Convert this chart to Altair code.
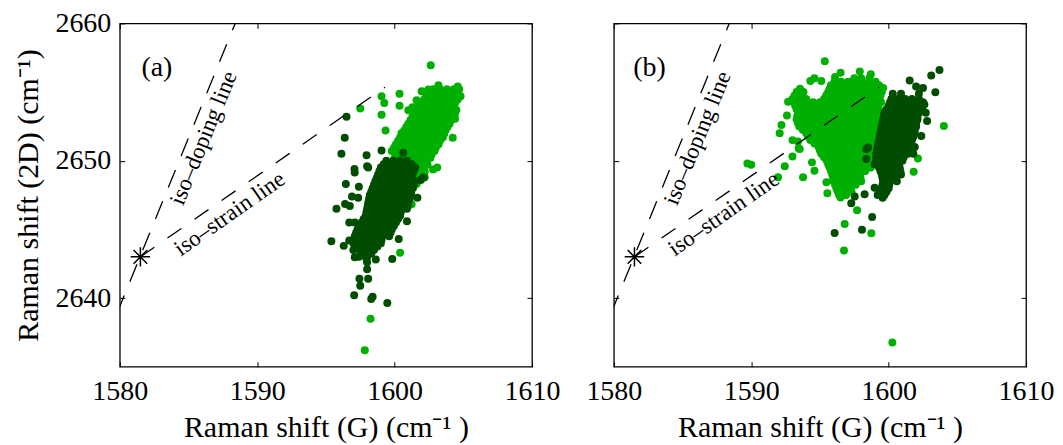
import altair as alt
import pandas as pd

FONT = "Liberation Serif"
LIGHT = "#00b000"
DARK = "#004d00"

X_TICKS = [1580, 1590, 1600, 1610]
Y_TICKS = [2640, 2650, 2660]
X_DOMAIN = [1580, 1610]
Y_DOMAIN = [2635, 2660]

# ---------------- panel (a) ----------------
a_light_rows = [
    (2655.2, [1602.8, 1603.3, 1603.8, 1604.3, 1604.7]),
    (2654.95, [1602.55, 1603.05, 1603.55, 1604.05, 1604.5]),
    (2654.7, [1602.3, 1602.8, 1603.3, 1603.8, 1604.3, 1604.8]),
    (2654.45, [1602.15, 1602.65, 1603.15, 1603.65, 1604.15, 1604.6]),
    (2654.2, [1601.9, 1602.4, 1602.9, 1603.4, 1603.9, 1604.4]),
    (2653.95, [1601.75, 1602.25, 1602.75, 1603.25, 1603.75, 1604.25]),
    (2653.7, [1601.6, 1602.1, 1602.6, 1603.1, 1603.6, 1604.1, 1604.5]),
    (2653.45, [1601.45, 1601.95, 1602.45, 1602.95, 1603.45, 1603.95, 1604.4]),
    (2653.2, [1601.3, 1601.8, 1602.3, 1602.8, 1603.3, 1603.8, 1604.3]),
    (2652.95, [1601.15, 1601.65, 1602.15, 1602.65, 1603.15, 1603.65, 1604.1]),
    (2652.7, [1601.0, 1601.5, 1602.0, 1602.5, 1603.0, 1603.5, 1604.0]),
    (2652.45, [1600.85, 1601.35, 1601.85, 1602.35, 1602.85, 1603.35, 1603.85]),
    (2652.2, [1600.7, 1601.2, 1601.7, 1602.2, 1602.7, 1603.2, 1603.7]),
    (2651.95, [1600.55, 1601.05, 1601.55, 1602.05, 1602.55, 1603.05, 1603.6]),
    (2651.7, [1600.4, 1600.9, 1601.4, 1601.9, 1602.4, 1602.9, 1603.5]),
    (2651.45, [1600.25, 1600.75, 1601.25, 1601.75, 1602.25, 1602.75, 1603.3]),
    (2651.2, [1600.1, 1600.6, 1601.1, 1601.6, 1602.1, 1602.6, 1603.2]),
    (2650.95, [1599.95, 1600.45, 1600.95, 1601.45, 1601.95, 1602.45, 1603.0]),
    (2650.7, [1599.8, 1600.3, 1600.8, 1601.3, 1601.8, 1602.3, 1602.9]),
    (2650.45, [1600.15, 1600.65, 1601.15, 1601.65, 1602.15, 1602.7]),
    (2650.2, [1600.0, 1600.5, 1601.0, 1601.5, 1602.0, 1602.6]),
    (2649.95, [1600.25, 1600.75, 1601.25, 1601.75, 1602.25]),
    (2649.7, [1600.4, 1600.9, 1601.4, 1601.9, 1602.4]),
    (2649.45, [1600.6, 1601.1, 1601.6, 1602.1]),
    (2649.2, [1600.8, 1601.3, 1601.8, 1602.2]),
    (2648.95, [1601.0, 1601.5, 1601.95]),
    (2648.7, [1601.2, 1601.7]),
]
a_light_sx = [1602.63, 1603.19, 1604.4, 1601.97, 1602.46, 1601.6, 1600.36, 1599.05, 1599.25,
              1597.5, 1600.36, 1601.0, 1601.3, 1599.05, 1599.34, 1600.5, 1604.4, 1604.5,
              1604.23, 1602.8, 1603.1, 1602.2, 1601.6, 1601.1, 1601.36, 1600.4, 1597.6,
              1598.25, 1597.83, 1599.54, 1604.6, 1601.24]
a_light_sy = [2656.95, 2655.5, 2655.1, 2655.06, 2655.18, 2654.4, 2654.87, 2654.7, 2654.2,
              2653.8, 2654.0, 2653.68, 2653.9, 2653.34, 2652.2, 2652.0, 2653.05, 2654.6,
              2651.67, 2649.37, 2649.5, 2648.8, 2648.3, 2646.8, 2648.04, 2643.3, 2643.1,
              2638.5, 2636.2, 2649.6, 2655.4, 2646.83]

a_dark_rows = [
    (2650.0, [1599.4, 1599.9, 1600.4, 1600.9]),
    (2649.75, [1599.2, 1599.7, 1600.2, 1600.7, 1601.2]),
    (2649.5, [1599.0, 1599.5, 1600.0, 1600.5, 1601.0, 1601.5]),
    (2649.25, [1598.9, 1599.4, 1599.9, 1600.4, 1600.9, 1601.4]),
    (2649.0, [1598.8, 1599.3, 1599.8, 1600.3, 1600.8, 1601.3]),
    (2648.75, [1598.7, 1599.2, 1599.7, 1600.2, 1600.7, 1601.2]),
    (2648.5, [1598.6, 1599.1, 1599.6, 1600.1, 1600.6, 1601.1, 1601.5]),
    (2648.25, [1598.5, 1599.0, 1599.5, 1600.0, 1600.5, 1601.0, 1601.4]),
    (2648.0, [1598.4, 1598.9, 1599.4, 1599.9, 1600.4, 1600.9, 1601.3]),
    (2647.75, [1598.3, 1598.8, 1599.3, 1599.8, 1600.3, 1600.8, 1601.2]),
    (2647.5, [1598.2, 1598.7, 1599.2, 1599.7, 1600.2, 1600.7, 1601.2]),
    (2647.25, [1598.15, 1598.65, 1599.15, 1599.65, 1600.15, 1600.65, 1601.1]),
    (2647.0, [1598.1, 1598.6, 1599.1, 1599.6, 1600.1, 1600.6, 1601.0]),
    (2646.75, [1598.05, 1598.55, 1599.05, 1599.55, 1600.05, 1600.55, 1600.95]),
    (2646.5, [1598.0, 1598.5, 1599.0, 1599.5, 1600.0, 1600.5, 1600.9]),
    (2646.25, [1597.95, 1598.45, 1598.95, 1599.45, 1599.95, 1600.45]),
    (2646.0, [1597.9, 1598.4, 1598.9, 1599.4, 1599.9, 1600.4]),
    (2645.75, [1597.75, 1598.25, 1598.75, 1599.25, 1599.75, 1600.25]),
    (2645.5, [1597.6, 1598.1, 1598.6, 1599.1, 1599.6, 1600.1]),
    (2645.25, [1597.45, 1597.95, 1598.45, 1598.95, 1599.45, 1599.95]),
    (2645.0, [1597.3, 1597.8, 1598.3, 1598.8, 1599.3, 1599.8]),
    (2644.75, [1597.2, 1597.7, 1598.2, 1598.7, 1599.2, 1599.7]),
    (2644.5, [1597.1, 1597.6, 1598.1, 1598.6, 1599.1, 1599.6]),
    (2644.25, [1597.05, 1597.55, 1598.05, 1598.55, 1599.05]),
    (2644.0, [1597.0, 1597.5, 1598.0, 1598.5, 1599.0]),
    (2643.75, [1597.25, 1597.75, 1598.25, 1598.75]),
    (2643.5, [1597.0, 1597.5, 1598.0, 1598.5]),
    (2643.25, [1597.7, 1598.3]),
    (2643.0, [1597.4, 1598.0]),
]
a_dark_sx = [1596.5, 1596.37, 1596.13, 1597.96, 1599.05, 1600.63, 1601.24, 1601.66, 1597.1,
             1596.45, 1595.77, 1596.4, 1595.4, 1596.7, 1597.1, 1597.96, 1599.83, 1598.0,
             1598.63, 1598.0, 1597.44, 1598.08, 1597.5, 1597.06, 1598.3, 1598.4, 1599.47,
             1598.0, 1597.4, 1596.9, 1596.7, 1596.3, 1600.3, 1600.9, 1601.9, 1597.08,
             1598.08, 1596.74, 1597.35, 1597.1, 1602.1]
a_dark_sy = [2653.2, 2651.67, 2650.5, 2650.4, 2650.75, 2650.58, 2649.76, 2647.3, 2649.15,
             2648.3, 2646.5, 2646.85, 2644.14, 2644.2, 2642.98, 2642.86, 2642.84, 2642.6,
             2642.8, 2642.1, 2641.4, 2641.4, 2640.9, 2640.2, 2639.93, 2640.1, 2639.64,
             2649.6, 2648.1, 2647.4, 2645.5, 2643.8, 2644.3, 2645.6, 2648.6, 2649.4,
             2649.5, 2646.7, 2647.3, 2645.5, 2648.77]

# ---------------- panel (b) ----------------
b_light_rows = [
    (2656.0, [1597.5, 1598.0, 1598.6]),
    (2655.75, [1596.05, 1596.55, 1597.05, 1597.55, 1598.05, 1598.55, 1599.05]),
    (2655.5, [1595.8, 1596.3, 1596.8, 1597.3, 1597.8, 1598.3, 1598.8, 1599.3]),
    (2655.25, [1593.55, 1595.7, 1596.2, 1596.7, 1597.2, 1597.7, 1598.2, 1598.7, 1599.2]),
    (2655.0, [1593.3, 1593.8, 1595.6, 1596.1, 1596.6, 1597.1, 1597.6, 1598.1, 1598.6, 1599.1, 1599.5]),
    (2654.75, [1593.15, 1593.65, 1595.45, 1595.95, 1596.45, 1596.95, 1597.45, 1597.95, 1598.45, 1598.95, 1599.4]),
    (2654.5, [1593.0, 1593.5, 1594.0, 1595.3, 1595.8, 1596.3, 1596.8, 1597.3, 1597.8, 1598.3, 1598.8, 1599.3]),
    (2654.25, [1593.1, 1593.6, 1594.1, 1594.5, 1595.0, 1595.5, 1596.0, 1596.5, 1597.0, 1597.5, 1598.0, 1598.5, 1599.0, 1599.45]),
    (2654.0, [1593.2, 1593.7, 1594.2, 1594.7, 1595.2, 1595.7, 1596.2, 1596.7, 1597.2, 1597.7, 1598.2, 1598.7, 1599.2]),
    (2653.75, [1593.3, 1593.8, 1594.3, 1594.8, 1595.3, 1595.8, 1596.3, 1596.8, 1597.3, 1597.8, 1598.3, 1598.8, 1599.3]),
    (2653.5, [1593.4, 1593.9, 1594.4, 1594.9, 1595.4, 1595.9, 1596.4, 1596.9, 1597.4, 1597.9, 1598.4, 1598.9, 1599.4]),
    (2653.25, [1593.35, 1593.85, 1594.35, 1594.85, 1595.35, 1595.85, 1596.35, 1596.85, 1597.35, 1597.85, 1598.35, 1598.85, 1599.35]),
    (2653.0, [1593.3, 1593.8, 1594.3, 1594.8, 1595.3, 1595.8, 1596.3, 1596.8, 1597.3, 1597.8, 1598.3, 1598.8, 1599.3]),
    (2652.75, [1593.4, 1593.9, 1594.4, 1594.9, 1595.4, 1595.9, 1596.4, 1596.9, 1597.4, 1597.9, 1598.4, 1598.9, 1599.35]),
    (2652.5, [1593.5, 1594.0, 1594.5, 1595.0, 1595.5, 1596.0, 1596.5, 1597.0, 1597.5, 1598.0, 1598.5, 1599.0, 1599.4]),
    (2652.25, [1593.75, 1594.25, 1594.75, 1595.25, 1595.75, 1596.25, 1596.75, 1597.25, 1597.75, 1598.25, 1598.75, 1599.2]),
    (2652.0, [1594.0, 1594.5, 1595.0, 1595.5, 1596.0, 1596.5, 1597.0, 1597.5, 1598.0, 1598.5, 1599.0, 1599.3]),
    (2651.75, [1594.15, 1594.65, 1595.15, 1595.65, 1596.15, 1596.65, 1597.15, 1597.65, 1598.15, 1598.65, 1599.1]),
    (2651.5, [1594.3, 1594.8, 1595.3, 1595.8, 1596.3, 1596.8, 1597.3, 1597.8, 1598.3, 1598.8, 1599.2]),
    (2651.25, [1594.6, 1595.1, 1595.6, 1596.1, 1596.6, 1597.1, 1597.6, 1598.1, 1598.6, 1599.0]),
    (2651.0, [1594.9, 1595.4, 1595.9, 1596.4, 1596.9, 1597.4, 1597.9, 1598.4, 1598.9]),
    (2650.75, [1595.0, 1595.5, 1596.0, 1596.5, 1597.0, 1597.5, 1598.0, 1598.5, 1599.0]),
    (2650.5, [1595.1, 1595.6, 1596.1, 1596.6, 1597.1, 1597.6, 1598.1, 1598.6, 1599.1]),
    (2650.25, [1595.3, 1595.8, 1596.3, 1596.8, 1597.3, 1597.8, 1598.3, 1598.8]),
    (2650.0, [1595.5, 1596.0, 1596.5, 1597.0, 1597.5, 1598.0, 1598.5]),
    (2649.75, [1595.6, 1596.1, 1596.6, 1597.1, 1597.6, 1598.1, 1598.6]),
    (2649.5, [1595.7, 1596.2, 1596.7, 1597.2, 1597.7, 1598.2, 1598.7]),
    (2649.25, [1595.8, 1596.3, 1596.8, 1597.3, 1597.8, 1598.3]),
    (2649.0, [1595.9, 1596.4, 1596.9, 1597.4, 1597.9]),
    (2648.75, [1595.95, 1596.45, 1596.95, 1597.45, 1597.95]),
    (2648.5, [1596.0, 1596.5, 1597.0, 1597.5, 1598.0]),
    (2648.25, [1596.1, 1596.6, 1597.1, 1597.6]),
    (2648.0, [1596.2, 1596.7, 1597.2]),
    (2647.75, [1596.3, 1596.8, 1597.3]),
    (2647.5, [1596.4, 1596.9]),
]
b_light_sx = [1595.35, 1594.3, 1595.1, 1592.68, 1592.2, 1592.07, 1589.72, 1590.0, 1592.44,
              1591.95, 1593.77, 1594.42, 1594.6, 1595.47, 1595.54, 1596.5, 1597.7, 1596.8,
              1598.74, 1596.75, 1600.27, 1604.02, 1602.13, 1601.82, 1599.6, 1600.44, 1593.53,
              1594.13, 1593.0, 1592.6, 1593.0, 1594.6, 1596.1, 1597.9, 1598.7, 1596.5,
              1596.44, 1593.4, 1593.45]
b_light_sy = [2657.24, 2655.8, 2655.8, 2654.3, 2652.6, 2652.0, 2649.8, 2649.7, 2649.6,
              2648.8, 2648.8, 2649.88, 2649.27, 2648.43, 2647.63, 2647.33, 2646.4, 2645.4,
              2644.72, 2643.46, 2636.76, 2652.52, 2650.17, 2649.2, 2655.3, 2654.4, 2650.85,
              2651.8, 2651.5, 2653.3, 2650.3, 2656.0, 2656.1, 2656.5, 2656.3, 2656.4,
              2655.23, 2651.4, 2650.9]

b_dark_rows = [
    (2654.5, [1600.2, 1600.7, 1601.2, 1601.7, 1602.2]),
    (2654.25, [1600.1, 1600.6, 1601.1, 1601.6, 1602.1, 1602.5]),
    (2654.0, [1600.0, 1600.5, 1601.0, 1601.5, 1602.0, 1602.5]),
    (2653.75, [1599.85, 1600.35, 1600.85, 1601.35, 1601.85, 1602.3]),
    (2653.5, [1599.7, 1600.2, 1600.7, 1601.2, 1601.7, 1602.2]),
    (2653.25, [1599.65, 1600.15, 1600.65, 1601.15, 1601.65, 1602.1]),
    (2653.0, [1599.6, 1600.1, 1600.6, 1601.1, 1601.6, 1602.1]),
    (2652.75, [1599.55, 1600.05, 1600.55, 1601.05, 1601.55, 1602.0]),
    (2652.5, [1599.5, 1600.0, 1600.5, 1601.0, 1601.5, 1602.0]),
    (2652.25, [1599.45, 1599.95, 1600.45, 1600.95, 1601.45, 1601.9]),
    (2652.0, [1599.4, 1599.9, 1600.4, 1600.9, 1601.4, 1601.9]),
    (2651.75, [1599.35, 1599.85, 1600.35, 1600.85, 1601.35, 1601.8]),
    (2651.5, [1599.3, 1599.8, 1600.3, 1600.8, 1601.3, 1601.7]),
    (2651.25, [1599.25, 1599.75, 1600.25, 1600.75, 1601.25, 1601.6]),
    (2651.0, [1599.2, 1599.7, 1600.2, 1600.7, 1601.2, 1601.6]),
    (2650.75, [1599.15, 1599.65, 1600.15, 1600.65, 1601.15, 1601.5]),
    (2650.5, [1599.1, 1599.6, 1600.1, 1600.6, 1601.1, 1601.4]),
    (2650.25, [1599.1, 1599.6, 1600.1, 1600.6, 1601.1]),
    (2650.0, [1599.1, 1599.6, 1600.1, 1600.6, 1601.0]),
    (2649.75, [1599.2, 1599.7, 1600.2, 1600.7]),
    (2649.5, [1599.3, 1599.8, 1600.3, 1600.8]),
    (2649.25, [1599.4, 1599.9, 1600.4, 1600.85]),
    (2649.0, [1599.5, 1600.0, 1600.5, 1600.9]),
    (2648.75, [1599.55, 1600.05, 1600.55]),
    (2648.5, [1599.6, 1600.1, 1600.6]),
    (2648.25, [1599.55, 1600.05]),
    (2648.0, [1599.5, 1600.0]),
    (2647.75, [1599.35, 1599.85]),
    (2647.5, [1599.2, 1599.7]),
]
b_dark_sx = [1603.7, 1603.1, 1601.53, 1603.4, 1602.2, 1602.6, 1600.9, 1600.3, 1602.38,
             1598.5, 1598.37, 1598.38, 1598.98, 1598.25, 1598.98, 1597.53, 1597.28, 1598.8,
             1598.06, 1596.07, 1602.7, 1602.8, 1602.5, 1602.0, 1601.9, 1601.8, 1599.56]
b_dark_sy = [2656.6, 2656.2, 2655.84, 2654.99, 2654.87, 2654.1, 2654.87, 2654.87, 2651.8,
             2650.97, 2650.12, 2650.83, 2649.74, 2647.56, 2648.04, 2647.4, 2646.9, 2645.9,
             2644.97, 2644.73, 2653.5, 2652.9, 2655.3, 2655.4, 2651.0, 2650.5, 2647.3]

# reference lines (same in both panels)
iso_doping_x = [1579.8, 1588.4]
iso_doping_y = [2638.9, 2660.0]
iso_strain_x = [1581.5, 1599.3]
iso_strain_y = [2643.0, 2655.35]
star_x = [1581.5]
star_y = [2643.0]

labels = ["iso\u2013doping line", "iso\u2013strain line"]
label_x = [1586.1, 1588.0]
label_y = [2651.65, 2646.13]
label_angle = [292.4, 325.0]
panel_tags = ["(a)", "(b)"]
tag_x = [1582.7, 1582.6]
tag_y = [2656.75, 2656.75]


def rows_to_df(rows, sx, sy):
    xs, ys = [], []
    for y, xl in rows:
        for x in xl:
            xs.append(x)
            ys.append(y)
    xs += sx
    ys += sy
    return pd.DataFrame({"x": xs, "y": ys})


STAR_PATH = "M-1,0L1,0M0,-1L0,1M-0.7,-0.7L0.7,0.7M-0.7,0.7L0.7,-0.7"

xs = alt.Scale(domain=X_DOMAIN, nice=False, zero=False)
ys = alt.Scale(domain=Y_DOMAIN, nice=False, zero=False)

DOT = 64


def panel(light_df, dark_df, tag_i, show_y):
    x_bottom = alt.Axis(values=X_TICKS, orient="bottom", offset=-5, tickSize=5, domain=False,
                        grid=False, labelFontSize=28, labelPadding=11, labelFlush=False,
                        labelOverlap=False, format="d", title="Raman shift (G) (cm\u207b\u00b9 )",
                        titleFontSize=30, titlePadding=7, titleFontWeight="normal",
                        tickColor="black", labelColor="black", titleColor="black")
    if show_y:
        y_left = alt.Axis(values=Y_TICKS, orient="left", offset=-5, tickSize=5, domain=False,
                          grid=False, labelFontSize=28, labelPadding=9, labelFlush=False,
                          format="d", title="Raman shift (2D) (cm\u207b\u00b9)", titleFontSize=30,
                          titlePadding=11, titleFontWeight="normal", tickColor="black",
                          labelColor="black", titleColor="black")
    else:
        y_left = alt.Axis(values=Y_TICKS, orient="left", offset=-5, tickSize=5, domain=False,
                          grid=False, labels=False, title=None, tickColor="black")
    x_top = alt.Axis(values=X_TICKS, orient="top", offset=-5, tickSize=5, domain=False,
                     grid=False, labels=False, title=None, tickColor="black")
    y_right = alt.Axis(values=Y_TICKS, orient="right", offset=-5, tickSize=5, domain=False,
                       grid=False, labels=False, title=None, tickColor="black")

    light = alt.Chart(light_df).mark_circle(size=DOT, opacity=1, color=LIGHT).encode(
        x=alt.X("x:Q", scale=xs, axis=x_bottom),
        y=alt.Y("y:Q", scale=ys, axis=y_left),
    )
    dark = alt.Chart(dark_df).mark_circle(size=DOT, opacity=1, color=DARK).encode(
        x=alt.X("x:Q", scale=xs, axis=None),
        y=alt.Y("y:Q", scale=ys, axis=None),
    )
    frame = alt.Chart(light_df).mark_point(opacity=0).encode(
        x=alt.X("x:Q", scale=xs, axis=x_top),
        y=alt.Y("y:Q", scale=ys, axis=y_right),
    )
    doping_df = pd.DataFrame({"x": iso_doping_x, "y": iso_doping_y})
    strain_df = pd.DataFrame({"x": iso_strain_x, "y": iso_strain_y})
    doping = alt.Chart(doping_df).mark_line(
        color="black", strokeWidth=1.3, strokeDash=[19, 15], clip=True
    ).encode(
        x=alt.X("x:Q", scale=xs, axis=None),
        y=alt.Y("y:Q", scale=ys, axis=None),
    )
    strain = alt.Chart(strain_df).mark_line(
        color="black", strokeWidth=1.3, strokeDash=[17, 16], clip=True
    ).encode(
        x=alt.X("x:Q", scale=xs, axis=None),
        y=alt.Y("y:Q", scale=ys, axis=None),
    )
    star = alt.Chart(pd.DataFrame({"x": star_x, "y": star_y})).mark_point(
        shape=STAR_PATH, size=380, filled=False, color="black", strokeWidth=1.5, opacity=1
    ).encode(
        x=alt.X("x:Q", scale=xs, axis=None),
        y=alt.Y("y:Q", scale=ys, axis=None),
    )
    texts = []
    for i in range(2):
        t = alt.Chart(pd.DataFrame({"x": [label_x[i]], "y": [label_y[i]], "t": [labels[i]]})).mark_text(
            font=FONT, fontSize=23, angle=label_angle[i], align="center", baseline="middle",
            color="black"
        ).encode(
            x=alt.X("x:Q", scale=xs, axis=None),
            y=alt.Y("y:Q", scale=ys, axis=None),
            text="t:N",
        )
        texts.append(t)
    tag = alt.Chart(pd.DataFrame({"x": [tag_x[tag_i]], "y": [tag_y[tag_i]], "t": [panel_tags[tag_i]]})).mark_text(
        font=FONT, fontSize=28, align="center", baseline="middle", color="black"
    ).encode(
        x=alt.X("x:Q", scale=xs, axis=None),
        y=alt.Y("y:Q", scale=ys, axis=None),
        text="t:N",
    )
    return alt.layer(light, dark, frame, doping, strain, star, *texts, tag).resolve_axis(
        x="independent", y="independent"
    ).properties(width=413, height=344)


a_light = rows_to_df(a_light_rows, a_light_sx, a_light_sy)
a_dark = rows_to_df(a_dark_rows, a_dark_sx, a_dark_sy)
b_light = rows_to_df(b_light_rows, b_light_sx, b_light_sy)
b_dark = rows_to_df(b_dark_rows, b_dark_sx, b_dark_sy)

chart = alt.hconcat(
    panel(a_light, a_dark, 0, True),
    panel(b_light, b_dark, 1, False),
    spacing=82,
    bounds="flush",
).properties(
    padding={"left": 5, "top": 0, "right": 0, "bottom": 0}
).configure(
    font=FONT
).configure_view(
    stroke="black", strokeWidth=1.3
).configure_axis(
    labelFont=FONT, titleFont=FONT, tickWidth=1
)

chart.save("out.html", embed_options={"renderer": "svg", "actions": False})
